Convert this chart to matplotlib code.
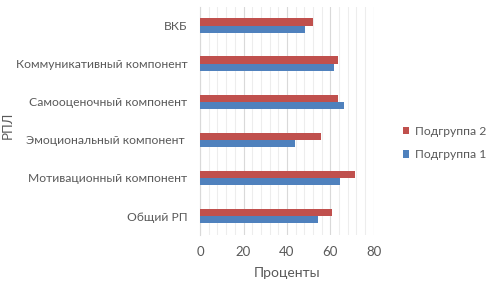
import numpy as np
import matplotlib
import matplotlib.pyplot as plt
from matplotlib.ticker import MultipleLocator

matplotlib.use('Agg')
plt.rcParams['font.family'] = ['Lato', 'DejaVu Sans']

categories = ['Общий РП', 'Мотивационный компонент', 'Эмоциональный компонент ',
              'Самооценочный компонент', 'Коммуникативный компонент', 'ВКБ']
group1 = [54.3, 64.4, 43.7, 66.2, 61.5, 48.5]  # Подгруппа 1
group2 = [60.9, 71.4, 55.5, 63.7, 63.7, 51.9]  # Подгруппа 2

c1, c2 = '#4F81BD', '#C0504D'
txt = '#595959'

fig = plt.figure(figsize=(4.88, 2.84), dpi=100)
ax = fig.add_axes([0.41, 0.172, 0.356, 0.805])

y = np.arange(len(categories))
h = 0.19
ax.barh(y - h / 2, group1, height=h, color=c1, label='Подгруппа 1', zorder=3)
ax.barh(y + h / 2, group2, height=h, color=c2, label='Подгруппа 2', zorder=3)

ax.set_xlim(0, 80)
ax.set_ylim(-0.5, len(categories) - 0.5)
ax.xaxis.set_major_locator(MultipleLocator(20))
ax.xaxis.set_minor_locator(MultipleLocator(4))
ax.grid(axis='x', which='major', color='#D9D9D9', lw=0.8, zorder=0)
ax.grid(axis='x', which='minor', color='#EDEDED', lw=0.8, zorder=0)
ax.set_yticks(y)
ax.set_yticklabels(categories)
for s in ['top', 'right', 'bottom']:
    ax.spines[s].set_visible(False)
ax.spines['left'].set_color('#D9D9D9')
ax.tick_params(axis='both', which='both', length=0, colors=txt, labelsize=8.7)
ax.tick_params(axis='y', pad=9)
ax.tick_params(axis='x', pad=8, labelsize=9.5)

ax.set_xlabel('Проценты', color=txt, fontsize=10, labelpad=6)
ax.set_ylabel('РПЛ', color=txt, fontsize=9.5)
ax.yaxis.set_label_coords(-1.07, 0.48, transform=ax.transAxes)

handles, labels = ax.get_legend_handles_labels()
fig.legend(handles[::-1], labels[::-1], loc='center left', bbox_to_anchor=(0.825, 0.496),
           frameon=False, fontsize=8.7, labelcolor=txt, handlelength=0.55, handleheight=0.55,
           handletextpad=0.5, labelspacing=1.0, borderpad=0, borderaxespad=0)

fig.savefig('out.png', dpi=100)
